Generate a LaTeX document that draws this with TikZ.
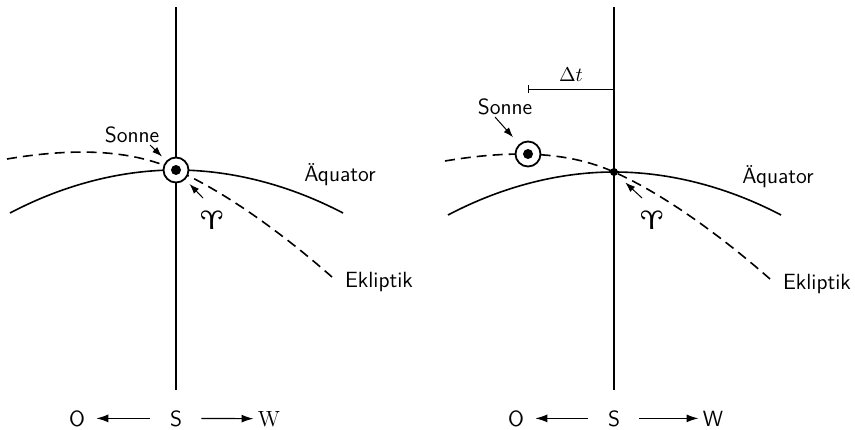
\documentclass[tikz,border=0pt]{standalone}
\usepackage{marvosym}
\usetikzlibrary{arrows.meta, calc}

\tikzset{
  lbl/.style={font=\sffamily\fontsize{11}{13}\selectfont, inner sep=1pt},
  meridian/.style={line width=1pt},
  equator/.style={line width=0.8pt},
  ecliptic/.style={line width=0.8pt, dash pattern=on 5pt off 3pt},
  pointer/.style={-{Latex[length=5pt,width=3.5pt]}, line width=0.5pt},
  dirarrow/.style={-{Latex[length=6pt,width=4pt]}, line width=0.6pt},
  sun/.style={circle, draw, fill=white, line width=0.9pt, minimum size=12.5pt, inner sep=0pt,
    path picture={\fill[black] (path picture bounding box.center) circle (2.5pt);}},
  vdot/.style={circle, fill, minimum size=4pt, inner sep=0pt},
  ram/.style={font=\fontsize{13}{15}\selectfont, inner sep=1pt},
}

\begin{document}
\begin{tikzpicture}[x=0.5pt, y=-0.5pt]
  \useasboundingbox (0,0) rectangle (855,429);

  % left panel: sun in the vernal point
  \begin{scope}
    \draw[meridian] (176,7) -- (176,390);
    \draw[equator] (10,213) parabola bend (176,170) (343,213);
    \draw[ecliptic] (7,159) .. controls (90,145) and (140,154) .. (176,170)
      .. controls (230,194) and (290,240) .. (332,277);
    \node (sunL) [sun] at (176,170) {};

    \node (sonneL) [lbl, anchor=base] at (132,142) {Sonne};
    \node (aequL) [lbl, anchor=base] at (340,181) {Äquator};
    \node (eklL) [lbl, anchor=base] at (379,287) {Ekliptik};
    \node (ariesL) [ram] at (212,220) {\Aries};

    \coordinate (sonneTailL) at ($(sunL)+(-26,-25)$);
    \coordinate (ariesTailL) at ($(sunL)+(27,28)$);
    \draw[pointer, shorten >=3pt] (sonneTailL) -- (sunL);
    \draw[pointer, shorten >=3pt] (ariesTailL) -- (sunL);

    \node (oL) [lbl, anchor=base] at (77,426) {O};
    \node (sL) [lbl, anchor=base] at (176,426) {S};
    \node (wL) [lbl, anchor=base] at (269,426) {\rmfamily W};
    \draw[dirarrow, shorten <=9pt, shorten >=4.5pt] (sL) -- (oL);
    \draw[dirarrow, shorten <=8.5pt, shorten >=1pt] (sL) -- (wL);
  \end{scope}

  % right panel: sun east of the meridian
  \begin{scope}[xshift=219pt, yshift=-1pt]
    \draw[meridian] (176,5) -- (176,388);
    \draw[equator] (10,213) parabola bend (176,170) (343,213);
    \draw[ecliptic] (7,159) .. controls (90,145) and (140,154) .. (176,170)
      .. controls (230,194) and (290,240) .. (332,277);
    \node (gammaR) [vdot] at (176,170) {};
    \node (sunR) [sun] at (90,152) {};

    \coordinate (barL) at (90,87);
    \coordinate (barR) at (176,87);
    \draw[{Bar[width=4pt]}-, line width=0.4pt] (barL) -- node[above] (dtR) {$\Delta t$} (barR);

    \node (sonneR) [lbl, anchor=base] at (67,112) {Sonne};
    \node (aequR) [lbl, anchor=base] at (340,181) {Äquator};
    \node (eklR) [lbl, anchor=base] at (379,287) {Ekliptik};
    \node (ariesR) [ram] at (214,218) {\Aries};

    \coordinate (sonneTailR) at ($(sunR)+(-33,-37)$);
    \coordinate (ariesTailR) at ($(gammaR)+(28,26)$);
    \draw[pointer, shorten >=4.5pt] (sonneTailR) -- (sunR);
    \draw[pointer, shorten >=5.5pt] (ariesTailR) -- (gammaR);

    \node (oR) [lbl, anchor=base] at (78,424) {O};
    \node (sR) [lbl, anchor=base] at (176,424) {S};
    \node (wR) [lbl, anchor=base] at (275,424) {W};
    \draw[dirarrow, shorten <=9pt, shorten >=4.5pt] (sR) -- (oR);
    \draw[dirarrow, shorten <=8.5pt, shorten >=1pt] (sR) -- (wR);
  \end{scope}
\end{tikzpicture}
\end{document}
